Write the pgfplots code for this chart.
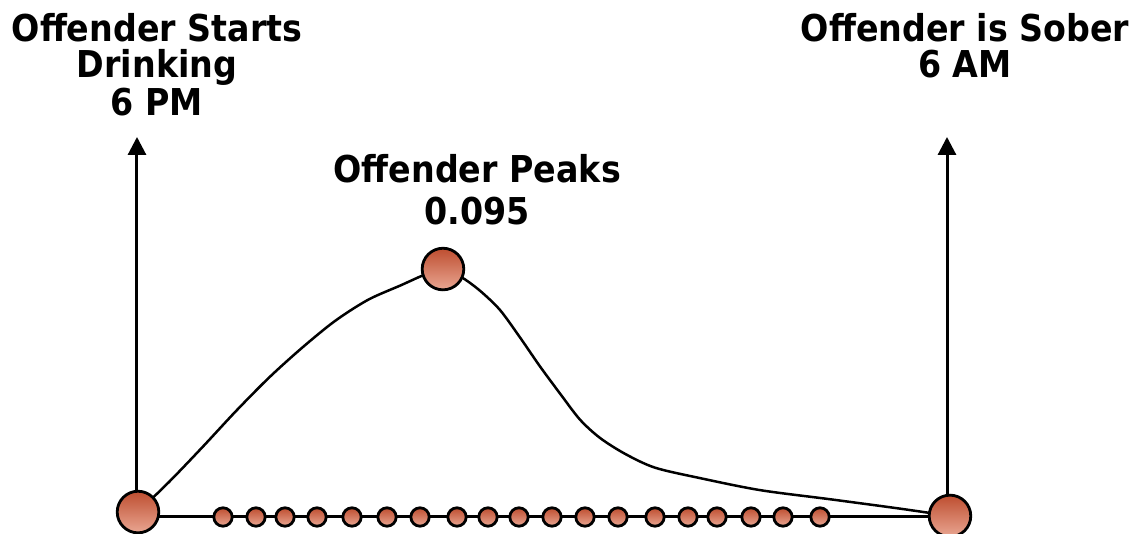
\documentclass[border=0pt]{standalone}
\usepackage{fontspec}
\setmainfont{DejaVu Sans}[FakeStretch=0.9]
\usepackage{pgfplots}
\pgfplotsset{compat=1.18}
\usetikzlibrary{arrows.meta}
\definecolor{gtop}{RGB}{190,78,48}
\definecolor{gbot}{RGB}{233,166,146}
\pgfdeclareplotmark{gradcirc}{%
  \shadedraw[top color=gtop, bottom color=gbot, draw=black, line width=1.4pt]
    (canvas cs:x=0pt,y=0pt) circle[radius=\pgfplotmarksize];}
\tikzset{lbl/.style={font=\fontsize{18.5}{22}\selectfont\bfseries, anchor=base, inner sep=0pt}}
\begin{document}
\begin{tikzpicture}
\begin{axis}[
  scale only axis, width=568pt, height=267pt,
  xmin=-2.0296, xmax=14.8, ymin=-0.006513, ymax=0.198084,
  axis line style={draw=none}, xtick=\empty, ytick=\empty,
  clip=false,
]
% baseline
\addplot[black, line width=1.5pt] coordinates {(0.015,0) (12.044,0)};
% vertical arrows
\addplot[black, line width=1.5pt, -{Triangle[width=9pt,length=9pt]}] coordinates {(0,0.0019) (0,0.1456)};
\addplot[black, line width=1.5pt, -{Triangle[width=9pt,length=9pt]}] coordinates {(12.0,0.0004) (12.0,0.1456)};
% BAC curve
\addplot[black, line width=1.25pt, smooth, tension=0.5] coordinates {
 (0.015,0.0019) (0.489,0.0138) (0.978,0.0270) (1.467,0.0406) (1.956,0.0534)
 (2.444,0.0648) (2.933,0.0751) (3.422,0.0832) (3.911,0.0888) (4.267,0.0929)
 (4.533,0.0950) (4.800,0.0920) (5.081,0.0867) (5.378,0.0793) (5.674,0.0688)
 (5.970,0.0577) (6.267,0.0473) (6.563,0.0373) (6.859,0.0303) (7.230,0.0242)
 (7.674,0.0189) (8.341,0.0149) (9.230,0.0103) (10.267,0.0068) (11.304,0.0032)
 (12.044,0.0004)};
% small dots (drinks)
\addplot[only marks, mark=gradcirc, mark size=4.6pt] coordinates {
 (1.274,0) (1.763,0) (2.193,0) (2.667,0) (3.185,0) (3.704,0) (4.193,0)
 (4.741,0) (5.200,0) (5.659,0) (6.148,0) (6.637,0) (7.126,0) (7.674,0)
 (8.163,0) (8.593,0) (9.096,0) (9.570,0) (10.119,0)};
% big circles
\addplot[only marks, mark=gradcirc, mark size=10.4pt] coordinates {
 (0.015,0.0019) (4.533,0.0950) (12.044,0.0004)};
% labels
\node[lbl] at (axis cs:0.296,0.18199) {Offender Starts};
\node[lbl] at (axis cs:0.296,0.16820) {Drinking};
\node[lbl] at (axis cs:0.296,0.15402) {6 PM};
\node[lbl] at (axis cs:12.267,0.18199) {Offender is Sober};
\node[lbl] at (axis cs:12.267,0.16820) {6 AM};
\node[lbl] at (axis cs:5.04,0.12797) {Offender Peaks};
\node[lbl] at (axis cs:5.04,0.11188) {0.095};
\end{axis}
\pgfresetboundingbox
\path (current axis.south west) rectangle (current axis.north east);
\end{tikzpicture}
\end{document}
